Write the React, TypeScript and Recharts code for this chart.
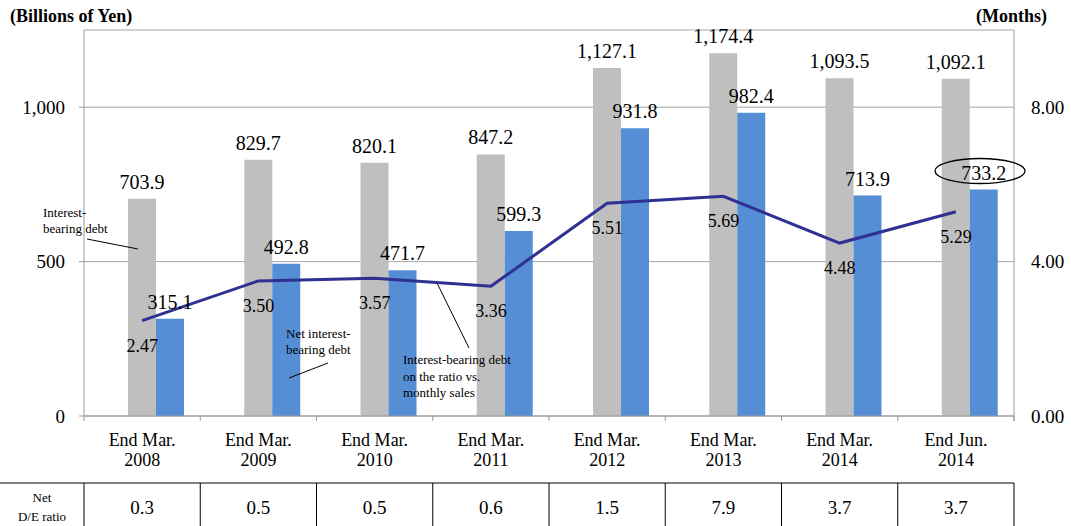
import React from "react";
import {
  ComposedChart,
  Bar,
  Line,
  XAxis,
  YAxis,
  CartesianGrid,
  LabelList,
} from "recharts";

const categories = [
  "End Mar.\n2008",
  "End Mar.\n2009",
  "End Mar.\n2010",
  "End Mar.\n2011",
  "End Mar.\n2012",
  "End Mar.\n2013",
  "End Mar.\n2014",
  "End Jun.\n2014",
];
const interestBearingDebt = [703.9, 829.7, 820.1, 847.2, 1127.1, 1174.4, 1093.5, 1092.1];
const netInterestBearingDebt = [315.1, 492.8, 471.7, 599.3, 931.8, 982.4, 713.9, 733.2];
const debtToMonthlySales = [2.47, 3.5, 3.57, 3.36, 5.51, 5.69, 4.48, 5.29];
const netDeRatio = [0.3, 0.5, 0.5, 0.6, 1.5, 7.9, 3.7, 3.7];
const leftTicks = [0, 500, 1000];
const rightTicks = [0, 4, 8];

const W = 1071;
const H = 526;
const CHART_H = 480;
const MARGIN = { top: 30, right: 10, bottom: 14, left: 10 };
const LEFT_W = 74;
const RIGHT_W = 47;
const PLOT_LEFT = MARGIN.left + LEFT_W;
const PLOT_RIGHT = W - MARGIN.right - RIGHT_W;
const PLOT_BOTTOM = 416;
const BAND = (PLOT_RIGHT - PLOT_LEFT) / categories.length;
const FONT = "'Liberation Serif', 'Times New Roman', serif";
const AXIS = "#999999";
const GRID = "#A6A6A6";

const data = categories.map((category, i) => ({
  category,
  gross: interestBearingDebt[i],
  net: netInterestBearingDebt[i],
  months: debtToMonthlySales[i],
}));

const fmtYen = (v: number) =>
  v.toLocaleString("en-US", { minimumFractionDigits: 1, maximumFractionDigits: 1 });

const CategoryTick = ({ x, y, payload }: any) => {
  const [l1, l2] = String(payload.value).split("\n");
  return (
    <g>
      <line x1={x + BAND / 2} x2={x + BAND / 2} y1={y} y2={y + 5} stroke={AXIS} />
      <text x={x} y={y + 30} textAnchor="middle" fontSize={18} style={{ fontFamily: FONT }} fill="#000">
        {l1}
      </text>
      <text x={x} y={y + 50} textAnchor="middle" fontSize={18} style={{ fontFamily: FONT }} fill="#000">
        {l2}
      </text>
    </g>
  );
};

const BarValue = ({ x, y, width, value }: any) => (
  <text
    x={x + width / 2}
    y={y - 10}
    textAnchor="middle"
    fontSize={20}
    style={{ fontFamily: FONT }}
    fill="#000"
  >
    {fmtYen(value)}
  </text>
);

const LineValue = ({ x, y, value }: any) => (
  <text x={x} y={y + 31} textAnchor="middle" fontSize={18} style={{ fontFamily: FONT }} fill="#000">
    {Number(value).toFixed(2)}
  </text>
);

// titles, callouts and the D/E table drawn on top of the chart
const Overlay = () => {
  const tableTop = 483;
  const cols = categories.map((_, i) => PLOT_LEFT + i * BAND);
  const note = { fontSize: 13, style: { fontFamily: FONT }, fill: "#000" };
  return (
    <svg
      width={W}
      height={H}
      style={{ position: "absolute", left: 0, top: 0, pointerEvents: "none", fontFamily: FONT }}
    >
      <text x={10} y={22} fontSize={18} fontWeight="bold" style={{ fontFamily: FONT }}>
        (Billions of Yen)
      </text>
      <text x={976} y={22} fontSize={18} fontWeight="bold" style={{ fontFamily: FONT }}>
        (Months)
      </text>

      <text x={43} y={217} {...note}>Interest-</text>
      <text x={43} y={233} {...note}>bearing debt</text>
      <line x1={87} y1={239} x2={138} y2={249} stroke="#000" />

      <text x={286} y={338} {...note}>Net interest-</text>
      <text x={286} y={354} {...note}>bearing debt</text>
      <line x1={289} y1={378} x2={328} y2={363} stroke="#000" />

      <text x={403} y={364} {...note}>Interest-bearing debt</text>
      <text x={403} y={381} {...note}>on the ratio vs.</text>
      <text x={403} y={397} {...note}>monthly sales</text>
      <line x1={437} y1={283} x2={469} y2={348} stroke="#000" />

      <ellipse cx={980} cy={171} rx={45} ry={12.5} fill="none" stroke="#000" strokeWidth={1.3} />

      {/* left axis runs a little past zero */}
      <line x1={PLOT_LEFT} y1={PLOT_BOTTOM} x2={PLOT_LEFT} y2={PLOT_BOTTOM + 5} stroke={AXIS} />
      <line x1={PLOT_RIGHT} y1={PLOT_BOTTOM} x2={PLOT_RIGHT} y2={PLOT_BOTTOM + 5} stroke={AXIS} />

      <line x1={0} y1={tableTop} x2={PLOT_RIGHT} y2={tableTop} stroke="#000" />
      {[...cols, PLOT_RIGHT].map((cx, i) => (
        <line key={i} x1={cx} y1={tableTop} x2={cx} y2={H} stroke="#000" />
      ))}
      <text x={PLOT_LEFT / 2} y={502} textAnchor="middle" fontSize={13} style={{ fontFamily: FONT }}>
        Net
      </text>
      <text x={PLOT_LEFT / 2} y={521} textAnchor="middle" fontSize={13} style={{ fontFamily: FONT }}>
        D/E ratio
      </text>
      {netDeRatio.map((v, i) => (
        <text
          key={i}
          x={cols[i] + BAND / 2}
          y={514}
          textAnchor="middle"
          fontSize={19}
          style={{ fontFamily: FONT }}
        >
          {v.toFixed(1)}
        </text>
      ))}
    </svg>
  );
};

export default function App() {
  return (
    <div
      style={{
        position: "absolute",
        left: 0,
        top: 0,
        width: W,
        height: H,
        background: "#fff",
        overflow: "hidden",
        fontFamily: FONT,
      }}
    >
      <ComposedChart width={W} height={CHART_H} data={data} margin={MARGIN} barGap={0}>
        <CartesianGrid vertical={false} stroke={GRID} yAxisId="left" />
        <XAxis
          dataKey="category"
          interval={0}
          tick={<CategoryTick />}
          tickLine={false}
          tickSize={0}
          tickMargin={0}
          height={CHART_H - MARGIN.bottom - PLOT_BOTTOM}
          axisLine={{ stroke: AXIS }}
        />
        <YAxis
          yAxisId="left"
          width={LEFT_W}
          domain={[0, 1250]}
          ticks={leftTicks}
          tickFormatter={(v: number) => v.toLocaleString("en-US")}
          tick={{ fill: "#000", fontSize: 19, fontFamily: FONT }}
          tickSize={5}
          tickMargin={14}
          tickLine={{ stroke: AXIS }}
          axisLine={{ stroke: AXIS }}
        />
        <YAxis
          yAxisId="right"
          orientation="right"
          width={RIGHT_W}
          domain={[0, 10]}
          ticks={rightTicks}
          tickFormatter={(v: number) => v.toFixed(2)}
          tick={{ fill: "#000", fontSize: 19, fontFamily: FONT, textAnchor: "start" }}
          tickSize={6}
          tickMargin={11}
          tickLine={false}
          axisLine={{ stroke: AXIS }}
        />
        {/* empty slot that pushes the pair of bars right of centre */}
        <Bar yAxisId="left" dataKey="spacer" barSize={28} fill="transparent" isAnimationActive={false} />
        <Bar yAxisId="left" dataKey="gross" barSize={28} fill="#BFBFBF" isAnimationActive={false}>
          <LabelList dataKey="gross" content={<BarValue />} />
        </Bar>
        <Bar yAxisId="left" dataKey="net" barSize={28} fill="#558ED5" isAnimationActive={false}>
          <LabelList dataKey="net" content={<BarValue />} />
        </Bar>
        <Line
          yAxisId="right"
          type="linear"
          dataKey="months"
          stroke="#2E3092"
          strokeWidth={3}
          dot={false}
          activeDot={false}
          isAnimationActive={false}
        >
          <LabelList dataKey="months" content={<LineValue />} />
        </Line>
      </ComposedChart>
      <Overlay />
    </div>
  );
}
